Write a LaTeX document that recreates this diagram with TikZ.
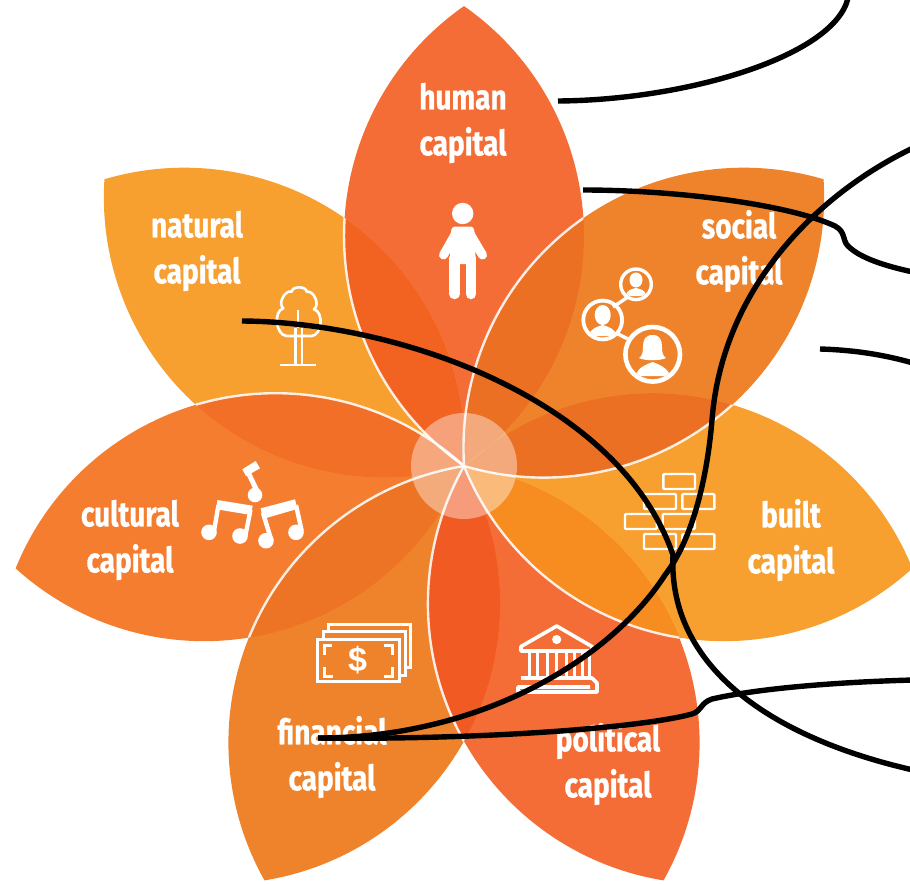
\documentclass[tikz,border=0pt]{standalone}
\usepackage{fontspec}
\setmainfont[FakeStretch=0.8,BoldFeatures={FakeBold=0.7}]{Fira Sans}
\newfontfamily\dollarfont{Liberation Sans}
\definecolor{cHuman}{HTML}{F46D36}
\definecolor{cNatural}{HTML}{F7A030}
\definecolor{cSocial}{HTML}{EF832C}
\definecolor{cBuilt}{HTML}{F7A030}
\definecolor{cPolitical}{HTML}{F46D36}
\definecolor{cFinancial}{HTML}{EF832C}
\definecolor{cCultural}{HTML}{F47D30}
\definecolor{ovHN}{HTML}{F26322}
\definecolor{ovHS}{HTML}{EC7024}
\definecolor{ovSB}{HTML}{EC7024}
\definecolor{ovBP}{HTML}{F78D20}
\definecolor{ovPF}{HTML}{F15A22}
\definecolor{ovFC}{HTML}{EE7425}
\definecolor{ovCN}{HTML}{F16F26}
\newcommand\PetalPath{(0,0) arc[start angle=-55.1,end angle=55.1,radius=280.4] arc[start angle=124.9,end angle=235.1,radius=280.4] -- cycle}
\newcommand\EastEdge{(0,0) arc[start angle=-55.1,end angle=55.1,radius=280.4]}
\newcommand\WestEdge{(0,460) arc[start angle=124.9,end angle=235.1,radius=280.4]}
% petal axes, clockwise from the top
\def\aH{0}\def\aS{-51.43}\def\aB{-102.86}\def\aP{-154.29}\def\aF{-205.71}\def\aC{-257.14}\def\aN{-308.57}
\newcommand\Petal[2]{\fill[#2,rotate=#1] \PetalPath;}
\newcommand\Lens[3]{\begin{scope}\clip[rotate=#1] \PetalPath;\clip[rotate=#2] \PetalPath;\fill[#3] (-500,-500) rectangle (500,500);\end{scope}}
\newcommand\Sliver[4]{\begin{scope}\clip[rotate=#1] \PetalPath;\clip[rotate=#2] \PetalPath;\clip[rotate=#3] \PetalPath;\fill[#4] (-500,-500) rectangle (500,500);\end{scope}}
\newcommand\WhiteEdge[3]{\begin{scope}\clip[rotate=#1] \PetalPath;\draw[petaledge,rotate=#2] #3;\end{scope}}
\tikzset{
  petaledge/.style={draw=white,line width=2.4pt,opacity=0.88},
  petallabel/.style={text=white,font=\fontsize{35}{46}\selectfont\bfseries,align=center,inner sep=0pt},
  blackline/.style={draw=black,line width=5.4pt},
  iconline/.style={draw=white,line width=3pt},
  thinicon/.style={draw=white,line width=2.6pt,line join=round},
  brick/.style={draw=white,line width=2.4pt,rounded corners=1pt},
  iconfill/.style={fill=white,draw=none}
}
\begin{document}
\begin{tikzpicture}[x=1pt,y=1pt]
\useasboundingbox (0,-884) rectangle (910,0);
\begin{scope}[shift={(464,-466)}]
  \Petal{\aH}{cHuman}
  \Petal{\aS}{cSocial}
  \Petal{\aB}{cBuilt}
  \Petal{\aP}{cPolitical}
  \Petal{\aF}{cFinancial}
  \Petal{\aC}{cCultural}
  \Petal{\aN}{cNatural}
  \Lens{\aH}{\aN}{ovHN}
  \Lens{\aH}{\aS}{ovHS}
  \Lens{\aS}{\aB}{ovSB}
  \Lens{\aB}{\aP}{ovBP}
  \Lens{\aP}{\aF}{ovPF}
  \Lens{\aF}{\aC}{ovFC}
  \Lens{\aC}{\aN}{ovCN}
  \Sliver{\aN}{\aH}{\aS}{cHuman}
  \Sliver{\aH}{\aS}{\aB}{cSocial}
  \Sliver{\aS}{\aB}{\aP}{cBuilt}
  \Sliver{\aB}{\aP}{\aF}{cPolitical}
  \Sliver{\aP}{\aF}{\aC}{cFinancial}
  \Sliver{\aF}{\aC}{\aN}{cCultural}
  \Sliver{\aC}{\aN}{\aH}{cNatural}
  \fill[white,opacity=0.4] (0,0) circle[radius=53];
  \WhiteEdge{\aN}{\aH}{\WestEdge}
  \WhiteEdge{\aH}{\aS}{\WestEdge}
  \WhiteEdge{\aB}{\aS}{\EastEdge}
  \WhiteEdge{\aP}{\aB}{\EastEdge}
  \WhiteEdge{\aF}{\aP}{\EastEdge}
  \WhiteEdge{\aC}{\aF}{\EastEdge}
  \WhiteEdge{\aN}{\aC}{\EastEdge}
\end{scope}

% labels
\node[petallabel] (humanlabel) at (463,-123) {human\\capital};
\node[petallabel] (naturallabel) at (197,-251) {natural\\capital};
\node[petallabel] (sociallabel) at (739,-251) {social\\capital};
\node[petallabel] (builtlabel) at (791,-540) {built\\capital};
\node[petallabel] (politicallabel) at (608,-764) {political\\capital};
\node[petallabel] (financiallabel) at (332,-757) {financial\\capital};
\node[petallabel] (culturallabel) at (130,-540) {cultural\\capital};

% person icon
\fill[white] (462.7,-213.5) circle[radius=10.7];
\draw[white,line width=9pt,line cap=round] (456,-233) -- (443.5,-255);
\draw[white,line width=9pt,line cap=round] (469.5,-233) -- (482.5,-255);
\fill[white,rounded corners=3pt] (452,-226.5) -- (473.5,-226.5) -- (476,-240) -- (475,-264) -- (450.5,-264) -- (449.5,-240) -- cycle;
\draw[white,line width=10.5pt,line cap=round] (454.5,-258) -- (454.5,-294);
\draw[white,line width=10.5pt,line cap=round] (471,-258) -- (471,-294);

% tree icon
\draw[thinicon] (286.7,-336) to[bend left=80] (283.3,-308.3) to[bend left=80] (291.7,-291.7) to[bend left=85] (306.7,-291.7) to[bend left=80] (314,-309.3) to[bend left=80] (311.7,-336) -- (286.7,-336);
\draw[thinicon] (295.5,-328) -- (295.5,-365);
\draw[thinicon] (302,-328) -- (302,-365);
\draw[thinicon] (280,-365) -- (316,-365);
\draw[thinicon] (298,-310) -- (298,-328);

% social icon
\draw[iconline,line width=3.4pt] (628,-297) -- (613,-307);
\draw[iconline,line width=3.4pt] (616,-333) -- (630,-340);
\draw[iconline,line width=3.4pt] (636,-284.3) circle[radius=15.3];
\draw[iconline,line width=3.8pt] (602.7,-320) circle[radius=19.4];
\draw[iconline,line width=4.6pt] (652.7,-354.3) circle[radius=27.3];
\begin{scope}
 \clip (636,-284.3) circle[radius=13.5];
 \fill[white] (636,-280) ellipse[x radius=6.5,y radius=7.5];
 \fill[white] (626,-296) .. controls (626,-290) and (632,-289) .. (636,-288) .. controls (640,-289) and (646,-290) .. (646,-296) -- cycle;
\end{scope}
\begin{scope}
 \clip (602.7,-320) circle[radius=17.5];
 \fill[white] (602.7,-315) ellipse[x radius=8,y radius=10];
 \fill[white] (589,-336) .. controls (590,-328) and (597,-327) .. (602.7,-325) .. controls (608,-327) and (615,-328) .. (616.5,-336) -- cycle;
\end{scope}
\begin{scope}
 \clip (652.7,-354.3) circle[radius=25];
 \fill[white] (652.7,-335) .. controls (645,-335) and (643,-340) .. (643,-347) .. controls (643,-353) and (642,-356) .. (639,-358) .. controls (645,-361) and (660,-361) .. (666,-358) .. controls (663,-356) and (662,-353) .. (662,-347) .. controls (662,-340) and (660,-335) .. (652.7,-335) -- cycle;
 \fill[white] (636,-376) .. controls (637,-368) and (645,-365) .. (652.7,-362) .. controls (660,-365) and (668,-368) .. (670,-376) -- cycle;
\end{scope}

% music icon
\fill[white] (255,-495) circle[radius=7.3];
\draw[white,line width=5pt] (257,-491) -- (247,-470);
\fill[white] (242.3,-469.3) -- (255.7,-461) -- (260,-468.3) -- (250,-474) -- (246,-476) -- cycle;
\fill[white] (209,-532.3) circle[radius=7.8];
\fill[white] (240,-536) circle[radius=7.8];
\fill[white] (217.3,-500) -- (252.7,-505.7) -- (251,-515) -- (216.7,-509.3) -- cycle;
\draw[white,line width=4.4pt] (218.5,-505) -- (214,-531);
\draw[white,line width=4.4pt] (250.5,-510) -- (245.5,-535);
\fill[white] (266,-540.7) circle[radius=7.8];
\fill[white] (296,-532.3) circle[radius=7.8];
\fill[white] (260.7,-508.3) -- (295,-499.3) -- (297.3,-509) -- (262.7,-519) -- cycle;
\draw[white,line width=4.4pt] (263,-513) -- (271,-539);
\draw[white,line width=4.4pt] (296,-505) -- (301.7,-531);

% money icon
\draw[iconline] (317.7,-639) rectangle (399,-681);
\draw[iconline] (323.5,-639) -- (323.5,-631.7) -- (405,-631.7) -- (405,-675) -- (399,-675);
\draw[iconline] (328.5,-631.7) -- (328.5,-624.3) -- (410.5,-624.3) -- (410.5,-667.7) -- (405,-667.7);
\draw[iconline] (331.7,-645) -- (324.5,-645) -- (324.5,-655);
\draw[iconline] (383.5,-645) -- (392.5,-645) -- (392.5,-655);
\draw[iconline] (324.5,-666.5) -- (324.5,-676) -- (332.5,-676);
\draw[iconline] (392.5,-666.5) -- (392.5,-676) -- (383.5,-676);
\node[text=white,inner sep=0pt,font=\dollarfont\bfseries\fontsize{34}{34}\selectfont] (dollarsign) at (357.5,-660) {\$};

% bank icon
\draw[thinicon,line width=3.6pt] (521,-651) -- (521,-646.5) -- (556.7,-626) -- (592,-646.5) -- (592,-651) -- cycle;
\fill[white] (556.7,-639.5) circle[radius=4.6];
\foreach \cx in {529.3,537.3,547.3,556,566,574,582.7,589.3}
  \draw[white,line width=3pt] (\cx,-652) -- (\cx,-678);
\draw[thinicon,line width=3.6pt,line join=round] (521,-678) -- (592,-678) -- (597,-683) -- (597,-692) -- (518,-692) -- (518,-687) -- (590,-687);

% brick icon
\foreach \xa/\ya/\xb/\yb in {663.3/474/695/489,644/494/676/509,682.3/494/714.3/509,625/514/656.7/529,662.7/514/695/529,644/534/676/549,682.3/534/714.3/549}
  \draw[brick] (\xa,-\ya) rectangle (\xb,-\yb);

% black lines
\coordinate (l1a) at (558,-101);
\coordinate (l1b) at (848,2);
\coordinate (l2a) at (583,-190);
\coordinate (l2b) at (913,-272);
\coordinate (l3a) at (820,-349);
\coordinate (l3b) at (913,-363);
\coordinate (l4a) at (913,-148);
\coordinate (l4b) at (318,-738);
\coordinate (l5a) at (242,-321);
\coordinate (l5b) at (913,-770);
\coordinate (l6a) at (318,-738);
\coordinate (l6b) at (913,-680);
\draw[blackline] (l1a) .. controls (690,-100) and (835,-55) .. (l1b);
\draw[blackline] (l2a) .. controls (680,-190) and (790,-205) .. (835,-226) .. controls (846,-232) and (842,-240) .. (848,-246) .. controls (860,-258) and (885,-266) .. (l2b);
\draw[blackline] (l3a) .. controls (855,-350) and (885,-355) .. (l3b);
\draw[blackline] (l4a) .. controls (815,-195) and (722,-290) .. (712,-420) .. controls (707,-480) and (692,-540) .. (665,-575) .. controls (610,-660) and (480,-738) .. (l4b);
\draw[blackline] (l5a) .. controls (400,-322) and (620,-400) .. (673,-555) .. controls (668,-660) and (760,-735) .. (l5b);
\draw[blackline] (l6a) .. controls (480,-740) and (640,-728) .. (692,-714) .. controls (702,-711) and (700,-703) .. (712,-699) .. controls (760,-688) and (840,-682) .. (l6b);
\end{tikzpicture}
\end{document}
